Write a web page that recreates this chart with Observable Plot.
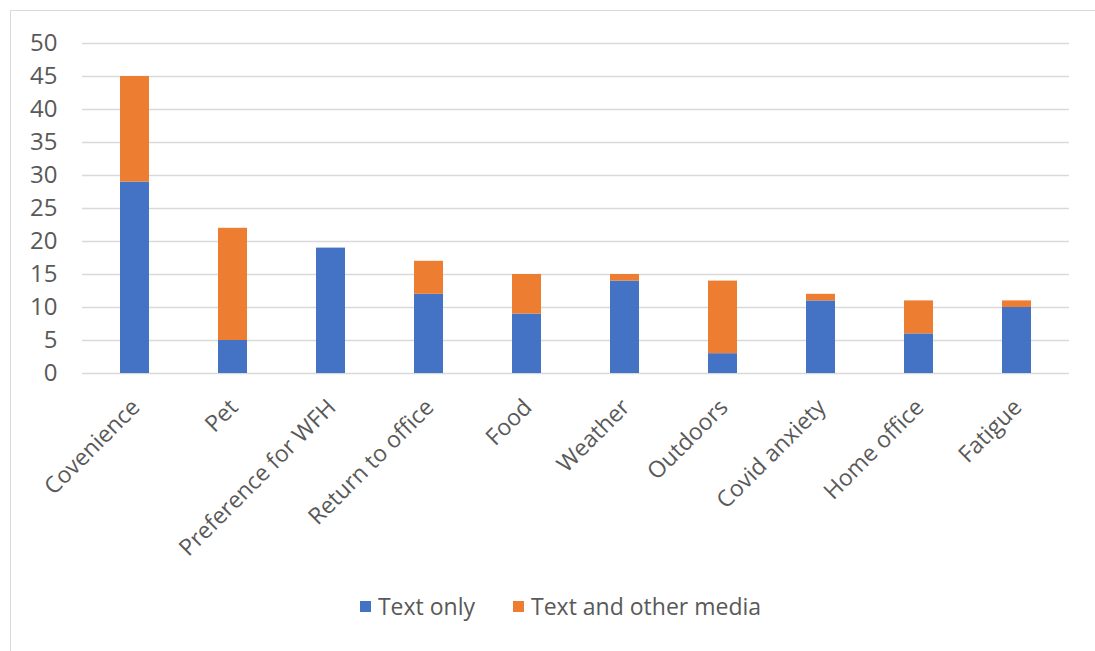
<!DOCTYPE html>
<html>
<head>
<meta charset="utf-8">
<script src="https://cdn.jsdelivr.net/npm/d3@7"></script>
<script src="https://cdn.jsdelivr.net/npm/@observablehq/plot@0.6"></script>
<style>
  html, body { margin: 0; padding: 0; background: #fff; }
  body { width: 1095px; height: 651px; position: relative; overflow: hidden; font-family: "Open Sans", Lato, sans-serif; }
  #frame { position: absolute; left: 10px; top: 10px; width: 1100px; height: 660px; border: 1.5px solid #d9d9d9; box-sizing: border-box; }
  #chart { position: absolute; left: 0; top: 0; }
  #legend { position: absolute; left: 0; top: 590px; width: 1095px; padding-left: 26px; box-sizing: border-box; display: flex; justify-content: center; align-items: center; color: #595959; font-size: 23px; }
  .item { display: flex; align-items: center; margin: 0 19px; }
  .sw { width: 11px; height: 11px; margin-right: 7px; }
</style>
</head>
<body>
<div id="frame"></div>
<div id="chart"></div>
<div id="legend"></div>
<script>
const categories = ["Covenience", "Pet", "Preference for WFH", "Return to office", "Food", "Weather", "Outdoors", "Covid anxiety", "Home office", "Fatigue"];
const textOnly = [29, 5, 19, 12, 9, 14, 3, 11, 6, 10];
const textOther = [16, 17, 0, 5, 6, 1, 11, 1, 5, 1];
const seriesNames = ["Text only", "Text and other media"];
const seriesColors = ["#4472C4", "#ED7D31"];
const yTicks = [0, 5, 10, 15, 20, 25, 30, 35, 40, 45, 50];

const data = categories.flatMap((c, i) => [
  {category: c, series: seriesNames[0], value: textOnly[i]},
  {category: c, series: seriesNames[1], value: textOther[i]}
]);

const chart = Plot.plot({
  width: 1095,
  height: 560,
  marginLeft: 82,
  marginRight: 26,
  marginTop: 43,
  marginBottom: 187,
  style: {fontFamily: "'Open Sans', Lato, sans-serif", fontSize: "23px", color: "#595959", background: "transparent", overflow: "visible"},
  x: {domain: categories, paddingInner: 0.7, paddingOuter: 0.35, label: null},
  y: {domain: [0, 50], label: null},
  color: {domain: seriesNames, range: seriesColors},
  marks: [
    Plot.ruleY(yTicks, {stroke: "#d9d9d9", strokeWidth: 1.5}),
    Plot.barY(data, {x: "category", y: "value", fill: "series", order: seriesNames}),
    Plot.axisY({ticks: yTicks, tickSize: 0, tickPadding: 25, label: null, fontSize: 24}),
    Plot.axisX({tickSize: 0, tickRotate: -45, tickPadding: 30, dx: 1, label: null, fontSize: 23})
  ]
});
document.getElementById("chart").appendChild(chart);

const legend = document.getElementById("legend");
seriesNames.forEach((name, i) => {
  const item = document.createElement("div");
  item.className = "item";
  const sw = document.createElement("div");
  sw.className = "sw";
  sw.style.background = seriesColors[i];
  const label = document.createElement("span");
  label.textContent = name;
  item.appendChild(sw);
  item.appendChild(label);
  legend.appendChild(item);
});
</script>
</body>
</html>
